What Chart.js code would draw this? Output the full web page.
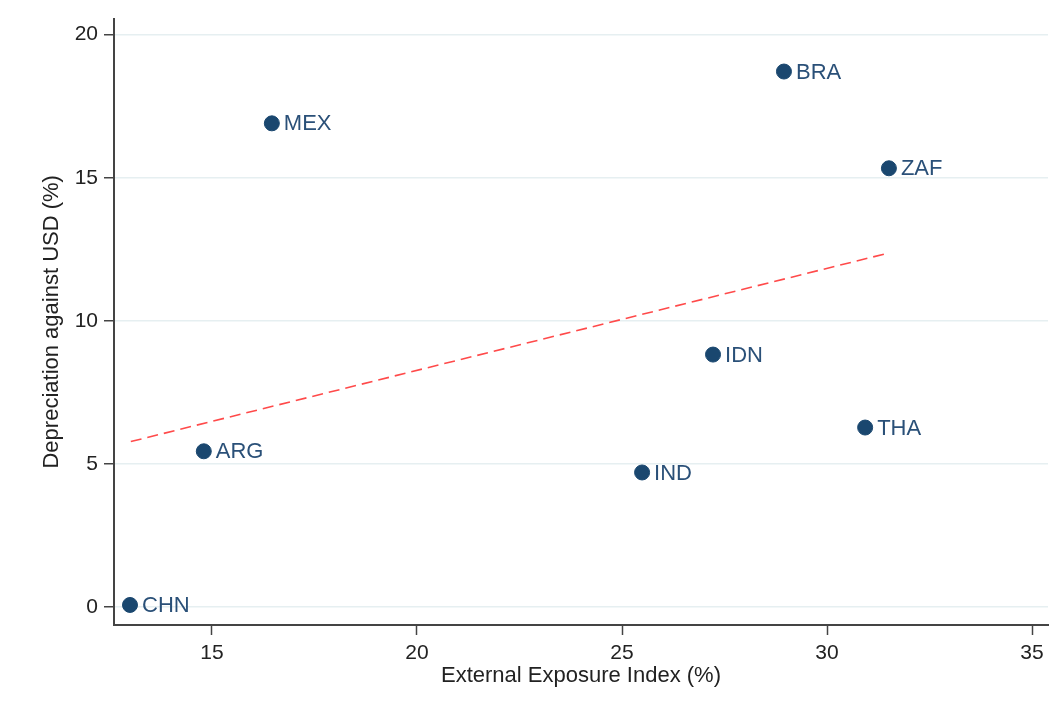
<!DOCTYPE html>
<html>
<head>
<meta charset="utf-8">
<script src="https://cdn.jsdelivr.net/npm/chart.js@4"></script>
<style>
  html, body { margin: 0; padding: 0; background: #fff; }
  #wrap { width: 1060px; height: 710px; }
</style>
</head>
<body>
<div id="wrap"><canvas id="scatterChart" width="1060" height="710"></canvas></div>
<script>
// Country codes and values
const countries = ['CHN', 'ARG', 'MEX', 'IND', 'IDN', 'BRA', 'THA', 'ZAF'];
const exposure = [13.0, 14.8, 16.46, 25.49, 27.22, 28.95, 30.93, 31.51];
const depreciation = [0.07, 5.44, 16.9, 4.70, 8.82, 18.71, 6.27, 15.33];

// Fitted line end points
const fitX = [13.02, 31.51];
const fitY = [5.78, 12.37];

const xTicks = [15, 20, 25, 30, 35];
const yTicks = [0, 5, 10, 15, 20];

const navy = '#1a476f';
const font = '"Liberation Sans", Arial, sans-serif';

// Draw the country code to the right of each marker
const pointLabels = {
    id: 'pointLabels',
    afterDatasetsDraw(chart) {
        const ctx = chart.ctx;
        const meta = chart.getDatasetMeta(0);
        ctx.save();
        ctx.font = '22px ' + font;
        ctx.fillStyle = '#2a5078';
        ctx.textAlign = 'left';
        ctx.textBaseline = 'middle';
        meta.data.forEach((pt, i) => {
            ctx.fillText(countries[i], pt.x + 12, pt.y + 1);
        });
        ctx.restore();
    }
};

new Chart(document.getElementById('scatterChart'), {
    type: 'scatter',
    data: {
        datasets: [{
            data: exposure.map((x, i) => ({ x: x, y: depreciation[i] })),
            backgroundColor: navy,
            borderColor: navy,
            pointRadius: 7.5,
            pointHoverRadius: 7.5
        }, {
            type: 'line',
            data: fitX.map((x, i) => ({ x: x, y: fitY[i] })),
            borderColor: '#ff4a4a',
            borderWidth: 1.6,
            borderDash: [11, 6],
            pointRadius: 0,
            fill: false
        }]
    },
    options: {
        responsive: false,
        animation: false,
        layout: { padding: { top: 17, right: 12, left: 0, bottom: 0 } },
        plugins: {
            legend: { display: false },
            tooltip: { enabled: false }
        },
        scales: {
            x: {
                type: 'linear',
                min: 12.61,
                max: 35.39,
                afterBuildTicks: scale => { scale.ticks = xTicks.map(v => ({ value: v })); },
                afterFit: scale => { scale.height = 85; },
                ticks: {
                    color: '#222',
                    font: { family: font, size: 21 },
                    padding: 6,
                    maxRotation: 0
                },
                grid: {
                    drawOnChartArea: false,
                    drawTicks: true,
                    tickLength: 10,
                    tickColor: '#444',
                    tickWidth: 1.5
                },
                border: { color: '#444', width: 2 },
                title: {
                    display: true,
                    text: 'External Exposure Index (%)',
                    color: '#222',
                    font: { family: font, size: 22 },
                    padding: { top: 0, bottom: 21 }
                }
            },
            y: {
                type: 'linear',
                min: -0.63,
                max: 20.56,
                afterBuildTicks: scale => { scale.ticks = yTicks.map(v => ({ value: v })); },
                afterFit: scale => { scale.width = 114; },
                ticks: {
                    color: '#222',
                    font: { family: font, size: 21 },
                    padding: 6
                },
                grid: {
                    color: '#e6eff1',
                    lineWidth: 1.5,
                    tickLength: 10,
                    tickColor: '#444',
                    tickWidth: 1.5
                },
                border: { color: '#444', width: 2 },
                title: {
                    display: true,
                    text: 'Depreciation against USD (%)',
                    color: '#222',
                    font: { family: font, size: 22 },
                    padding: { top: 39, bottom: 0 }
                }
            }
        }
    },
    plugins: [pointLabels]
});
</script>
</body>
</html>
